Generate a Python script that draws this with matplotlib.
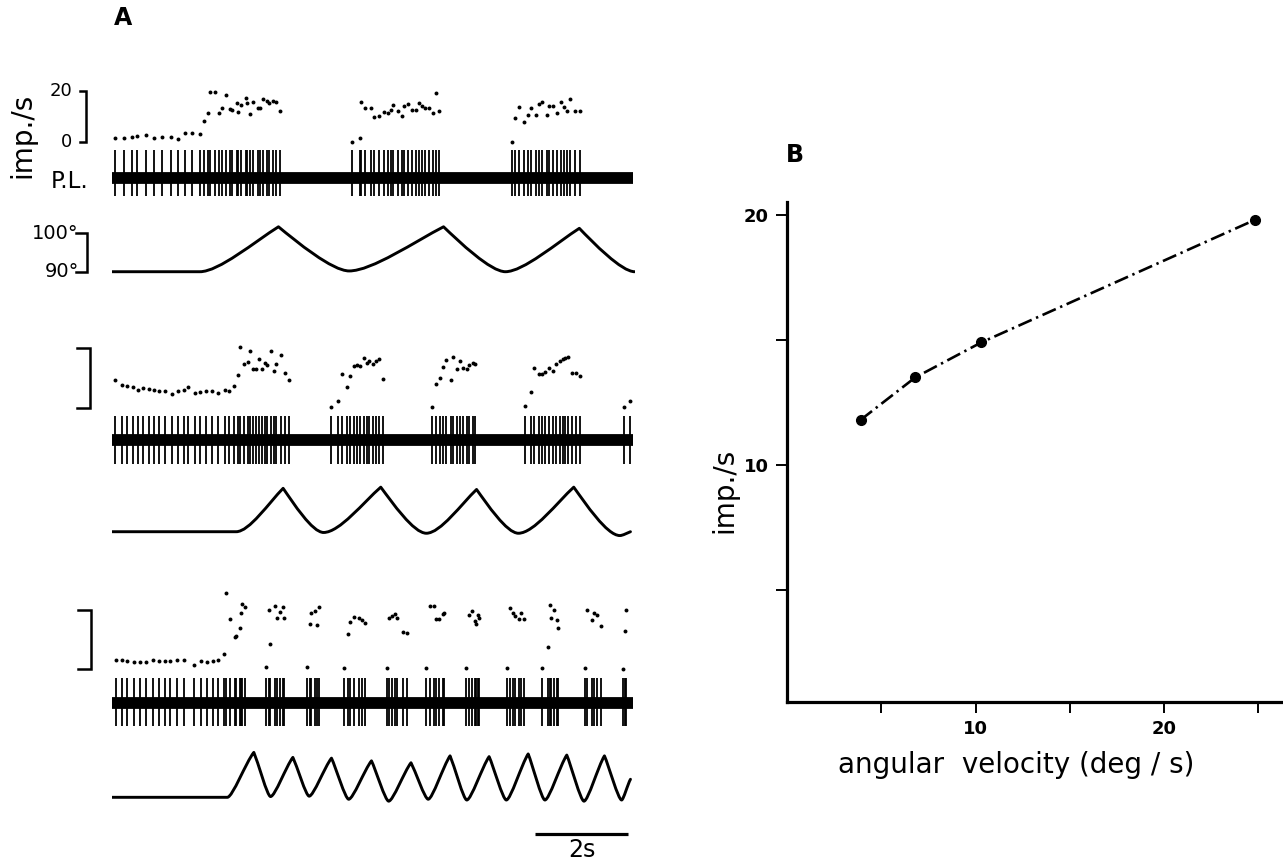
import matplotlib
matplotlib.use("Agg")
import matplotlib.pyplot as plt
import matplotlib.transforms as mtransforms
from matplotlib.path import Path
from matplotlib.patches import PathPatch

W, H = 1283, 865

# ---- panel A: instantaneous frequency (imp/s) at each spike ----
dots1_t = [0.065, 0.258, 0.42, 0.545, 0.724, 0.903, 1.082, 1.262, 1.43, 1.57, 1.71, 1.89,
           1.98, 2.07, 2.11, 2.21, 2.30, 2.36, 2.45, 2.54, 2.59, 2.68, 2.72, 2.77, 2.88,
           2.90, 2.97, 3.04, 3.13, 3.18, 3.25, 3.33, 3.38, 3.47, 3.53, 3.61,
           5.17, 5.33, 5.35, 5.44, 5.56, 5.63, 5.74, 5.84, 5.93, 5.99, 6.05, 6.16, 6.24,
           6.29, 6.37, 6.46, 6.54, 6.60, 6.67, 6.74, 6.82, 6.91, 6.96, 7.04,
           8.60, 8.67, 8.75, 8.85, 8.95, 9.00, 9.12, 9.18, 9.25, 9.35, 9.40, 9.49, 9.58,
           9.65, 9.72, 9.79, 9.86, 9.96, 10.06]
dots1_v = [1.6, 1.6, 2.2, 2.6, 3.0, 1.6, 2.2, 2.2, 1.3, 3.5, 3.5, 3.1,
           8.3, 11.5, 19.7, 19.7, 11.3, 13.3, 18.4, 13.0, 12.6, 15.4, 11.9, 14.5, 17.2,
           15.2, 11.0, 15.8, 13.5, 13.5, 16.9, 16.2, 15.2, 16.1, 15.8, 12.3,
           0.0, 1.8, 15.8, 13.2, 13.2, 10.0, 10.3, 11.8, 11.5, 12.6, 14.5, 12.2, 10.3,
           14.3, 14.8, 12.6, 12.6, 15.2, 14.3, 13.5, 13.5, 11.3, 19.3, 12.2,
           0.3, 9.6, 13.6, 8.0, 10.6, 13.2, 10.6, 14.8, 15.8, 10.6, 14.2, 14.2, 11.5,
           15.8, 13.6, 12.2, 16.8, 12.2, 12.2]

dots2_t = [0.065, 0.218, 0.333, 0.449, 0.564, 0.671, 0.786, 0.901, 1.017, 1.132, 1.286,
           1.424, 1.539, 1.631, 1.785, 1.900, 2.015, 2.153, 2.269, 2.422, 2.522, 2.630,
           2.706, 2.745, 2.845, 2.921, 2.960, 3.037, 3.091, 3.152, 3.229, 3.290, 3.344,
           3.421, 3.482, 3.536, 3.628, 3.713, 3.805,
           4.711, 4.865, 4.942, 5.057, 5.126, 5.210, 5.264, 5.341, 5.418, 5.479, 5.533,
           5.610, 5.687, 5.733, 5.825,
           6.877, 6.969, 7.054, 7.123, 7.184, 7.300, 7.338, 7.430, 7.492, 7.553, 7.630,
           7.684, 7.760, 7.814,
           8.874, 9.004, 9.081, 9.181, 9.258, 9.320, 9.389, 9.489, 9.550, 9.627, 9.696,
           9.734, 9.796, 9.895, 9.987, 10.065,
           11.010, 11.140]
dots2_v = [9.3, 7.8, 7.4, 7.0, 6.2, 6.7, 6.5, 6.2, 5.7, 5.9, 4.8,
           5.9, 6.2, 7.0, 5.1, 5.6, 5.9, 5.7, 5.0, 6.1, 5.9, 7.4,
           11.2, 20.3, 14.7, 15.4, 19.0, 13.0, 13.0, 16.6, 13.0, 15.2, 14.3,
           19.1, 12.6, 14.9, 17.7, 11.9, 9.5,
           0.6, 2.5, 11.5, 7.0, 10.9, 14.0, 14.5, 14.0, 16.9, 15.2, 15.8,
           14.7, 15.7, 16.6, 9.8,
           0.6, 8.1, 10.1, 13.8, 16.0, 9.5, 17.1, 13.2, 15.8, 13.5, 13.2,
           14.3, 15.1, 14.7,
           0.85, 5.6, 13.5, 11.3, 11.5, 12.1, 13.5, 12.3, 14.9, 15.8, 16.3,
           16.9, 17.1, 11.7, 11.7, 10.7,
           0.6, 2.5]

dots3_t = [0.080, 0.210, 0.326, 0.464, 0.602, 0.733, 0.871, 1.001, 1.132, 1.255, 1.401,
           1.539, 1.754, 1.908, 2.038, 2.169, 2.269, 2.399,
           2.461, 2.538, 2.637, 2.668, 2.745, 2.768, 2.806, 2.868,
           3.306, 3.383, 3.406, 3.498, 3.552, 3.613, 3.667, 3.690,
           4.204, 4.266, 4.289, 4.358, 4.419, 4.442,
           4.995, 5.072, 5.126, 5.203, 5.303, 5.379, 5.433,
           5.917, 5.956, 6.017, 6.086, 6.132, 6.263, 6.340,
           6.747, 6.839, 6.916, 6.977, 7.031, 7.108, 7.146,
           7.622, 7.684, 7.745, 7.799, 7.837, 7.876, 7.899,
           8.490, 8.567, 8.621, 8.667, 8.743, 8.797, 8.851,
           9.258, 9.373, 9.412, 9.450, 9.511, 9.565, 9.588,
           10.180, 10.218, 10.333, 10.372, 10.425, 10.510,
           10.986, 11.025, 11.063]
dots3_v = [3.2, 3.2, 2.9, 2.6, 2.6, 2.6, 3.1, 2.9, 2.9, 2.9, 3.1,
           3.2, 1.5, 2.9, 2.6, 2.9, 3.2, 5.2,
           25.9, 17.2, 10.9, 11.4, 14.0, 19.2, 22.3, 21.2,
           0.8, 20.2, 8.4, 21.4, 17.5, 19.4, 21.2, 17.4,
           0.8, 15.4, 19.2, 19.7, 15.1, 21.2,
           0.35, 12.0, 16.0, 17.7, 17.5, 16.8, 15.8,
           0.35, 17.5, 17.9, 18.9, 17.4, 12.6, 12.2,
           0.35, 21.4, 21.5, 16.9, 16.9, 18.9, 19.2,
           0.35, 18.5, 19.8, 16.3, 15.4, 18.5, 17.5,
           0.35, 20.9, 19.2, 17.9, 17.1, 19.1, 17.1,
           0.35, 7.4, 21.7, 17.5, 20.0, 16.8, 14.0,
           0.35, 20.2, 16.8, 19.2, 18.5, 14.5,
           0.0, 12.9, 20.2]

# ---- panel A: platform position (deg), turning points ----
pos1_t = [0.0, 1.89, 3.58, 5.10, 7.13, 8.46, 10.05, 11.24]
pos1_deg = [90.0, 90.0, 101.7, 90.2, 101.7, 90.0, 101.3, 90.0]

pos2_t = [0.0, 2.67, 3.68, 4.55, 5.78, 6.76, 7.84, 8.74, 9.93, 10.92, 11.15]
pos2_deg = [90.0, 90.0, 101.3, 89.8, 101.6, 89.6, 101.0, 89.6, 101.6, 89.0, 90.0]

pos3_t = [0.0, 2.48, 3.05, 3.41, 3.89, 4.24, 4.72, 5.09, 5.58, 5.95, 6.43, 6.80,
          7.27, 7.63, 8.11, 8.48, 8.95, 9.31, 9.78, 10.15, 10.59, 10.96, 11.15]
pos3_deg = [90.0, 90.0, 101.7, 90.2, 100.4, 90.3, 100.2, 89.5, 99.5, 89.0, 99.0, 89.5,
            100.8, 89.3, 100.6, 89.3, 101.3, 89.3, 101.0, 89.0, 100.8, 89.3, 94.7]

rec_end = 11.2          # s, end of spike recording
scale_imp = (0, 20)     # imp/s calibration
scale_deg = (90, 100)   # deg calibration
scalebar_t0, scalebar_len = 9.1, 2.0

# ---- panel B ----
velocity = [3.9, 6.8, 10.3, 24.8]
rate = [11.8, 13.5, 14.9, 19.8]

plt.rcParams['font.family'] = ['DejaVu Sans']
fig = plt.figure(figsize=(W / 100, H / 100), dpi=100)


def axes_px(left, top, right, bottom):
    ax = fig.add_axes([left / W, 1 - bottom / H, (right - left) / W, (bottom - top) / H])
    ax.set_xlim(0, 11.25)
    ax.set_axis_off()
    return ax


def wave_path(ts, ys, r, rp):
    # flat start, then cubic pieces between turning points:
    # trough roundness set by r, peak roundness by rp
    verts = [(ts[0], ys[0]), (ts[1], ys[1])]
    codes = [Path.MOVETO, Path.LINETO]
    for i in range(2, len(ts)):
        t0, y0, t1, y1 = ts[i - 1], ys[i - 1], ts[i], ys[i]
        dt, dy = t1 - t0, y1 - y0
        if dy > 0:
            c1 = (t0 + r * dt, y0)
            c2 = (t1 - 0.3 * dt, y1 - rp * dy)
        else:
            c1 = (t0 + 0.25 * dt, y0 + rp * dy)
            c2 = (t1 - r * dt, y1)
        verts += [c1, c2, (t1, y1)]
        codes += [Path.CURVE4] * 3
    return Path(verts, codes)


def bracket(ax, lo, hi, x_line, x_tick):
    tr = mtransforms.blended_transform_factory(fig.transFigure, ax.transData)
    ax.plot([x_tick / W, x_line / W, x_line / W, x_tick / W], [hi, hi, lo, lo],
            transform=tr, color='k', lw=1.8, clip_on=False, solid_joinstyle='miter')


x0, x1 = 112, 112 + 11.25 * 46.5
traces = [
    # dots, dots box, imp ylim, spike box, up, down, position, pos box, shape, bracket x
    (dots1_t, dots1_v, (60, 150), (-3.0, 32.1), (147.5, 207.5), 0.92, 0.63,
     pos1_t, pos1_deg, (215, 285), (0.24, 0.33), (86, 80)),
    (dots2_t, dots2_v, (330, 415), (-2.23, 26.1), (409.5, 469.5), 0.77, 0.82,
     pos2_t, pos2_deg, (475, 545), (0.28, 0.33), (90, 77)),
    (dots3_t, dots3_v, (585, 675), (-1.97, 28.59), (672.8, 732.8), 0.84, 0.77,
     pos3_t, pos3_deg, (740.6, 810.6), (0.2, 0.22), (90.5, 78)),
]

pos_axes = []
for k, (dt_, dv, dbox, dlim, sbox, up, down, pt, pdeg, pbox, shape, bx) in enumerate(traces):
    axd = axes_px(x0, dbox[0], x1, dbox[1])
    axd.set_ylim(*dlim)
    axd.scatter(dt_, dv, s=8, color='k', linewidths=0)
    bracket(axd, scale_imp[0], scale_imp[1], bx[0], bx[1])
    if k == 0:
        trl = mtransforms.blended_transform_factory(fig.transFigure, axd.transData)
        axd.text(72 / W, scale_imp[1], '20', transform=trl, ha='right', va='center',
                 fontsize=13)
        axd.text(72 / W, scale_imp[0], '0', transform=trl, ha='right', va='center',
                 fontsize=13)

    axs = axes_px(x0, sbox[0], x1, sbox[1])
    axs.set_ylim(-1, 1)
    axs.plot([0, rec_end], [0, 0], color='k', lw=8.5, solid_capstyle='butt')
    axs.vlines(dt_, -down, up, color='k', lw=1.3)

    axp = axes_px(x0, pbox[0], x1, pbox[1])
    axp.set_ylim(86.54, 104.77)
    axp.add_patch(PathPatch(wave_path(pt, pdeg, *shape), facecolor='none', edgecolor='k',
                            lw=2.1, joinstyle='round', capstyle='round'))
    pos_axes.append(axp)

ax1p = pos_axes[0]
bracket(ax1p, scale_deg[0], scale_deg[1], 86.7, 76)
trd = mtransforms.blended_transform_factory(fig.transFigure, ax1p.transData)
ax1p.text(79 / W, scale_deg[1], '100°', transform=trd, ha='right', va='center', fontsize=14)
ax1p.text(79 / W, scale_deg[0], '90°', transform=trd, ha='right', va='center', fontsize=14)

# time scale bar
axbar = axes_px(x0, 820, x1, 865)
axbar.set_ylim(-1, 1)
axbar.plot([scalebar_t0, scalebar_t0 + scalebar_len], [0.4, 0.4], color='k', lw=2.3,
           solid_capstyle='butt')
axbar.text(scalebar_t0 + scalebar_len / 2, -0.35, '2s', ha='center', va='center', fontsize=17)

fig.text(22 / W, 1 - 135 / H, 'imp./s', rotation=90, ha='center', va='center', fontsize=20)
fig.text(69.5 / W, 1 - 181.5 / H, 'P.L.', ha='center', va='center', fontsize=16.5)
fig.text(114 / W, 1 - 18 / H, 'A', ha='left', va='center', fontsize=17, fontweight='bold')
fig.text(786 / W, 1 - 155.5 / H, 'B', ha='left', va='center', fontsize=17, fontweight='bold')

# ---- panel B ----
axb = fig.add_axes([787 / W, 1 - 701.7 / H, (W - 787) / W, 500 / H])
axb.plot(velocity, rate, color='k', lw=1.9, linestyle=(0, (5.5, 1.8, 0.9, 1.8)),
         marker='o', ms=7, mfc='k', mec='k')
axb.set_xlim(0, 26.3)
axb.set_ylim(0.53, 20.53)
axb.set_xticks([5, 10, 15, 20, 25])
axb.set_xticklabels(['', '10', '', '20', ''])
axb.set_yticks([5, 10, 15, 20])
axb.set_yticklabels(['', '10', '', '20'])
for s in ['top', 'right']:
    axb.spines[s].set_visible(False)
for s in ['left', 'bottom']:
    axb.spines[s].set_linewidth(2.3)
axb.tick_params(direction='out', length=8, width=1.4, labelsize=13, pad=5)
for lab in axb.get_xticklabels() + axb.get_yticklabels():
    lab.set_fontweight('bold')
axb.patch.set_visible(False)
fig.text(724 / W, 1 - 490 / H, 'imp./s', rotation=90, ha='center', va='center', fontsize=20)
fig.text(1016 / W, 1 - 765 / H, 'angular  velocity (deg / s)', ha='center', va='center',
         fontsize=20)

fig.savefig('out.png', dpi=100)
